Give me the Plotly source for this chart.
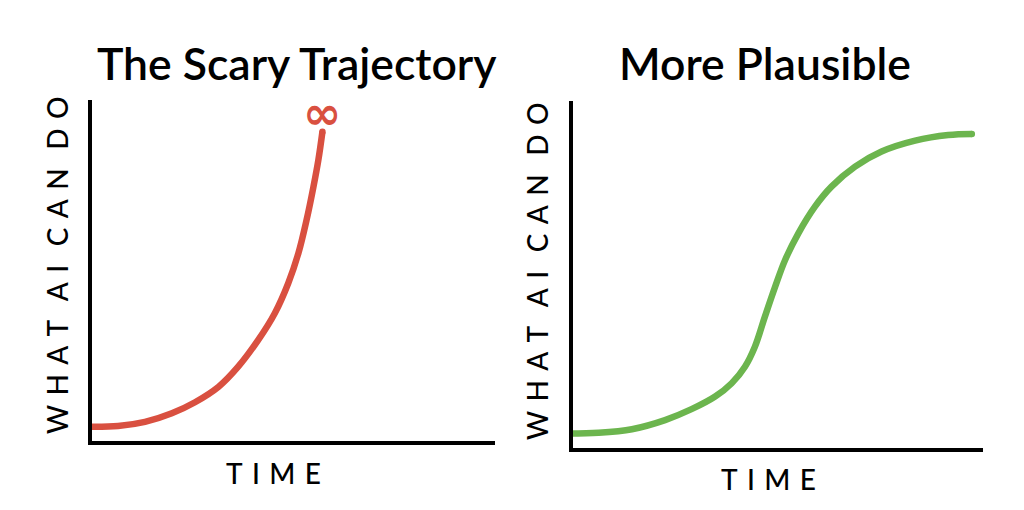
import plotly.graph_objects as go

# ---- data ----
titles = ["The Scary Trajectory", "More Plausible"]
x_label = "TIME"
y_label = "WHAT AI CAN DO"
infinity_label = "∞"

time_scary = [0, 7.4, 14.0, 20.6, 26.3, 32.1, 36.9, 41.8, 45.9, 49.2, 51.7, 53.7, 55.4, 56.6, 57.6]
value_scary = [5.3, 5.5, 6.7, 9.2, 12.4, 16.9, 22.7, 30.4, 38.2, 46.9, 55.6, 65.2, 74.9, 82.6, 90.8]

time_plausible = [0, 7.1, 15.2, 23.2, 29.6, 35.3, 39.3, 42.5, 44.9, 47.3, 49.8, 52.2, 55.4, 59.4,
                  63.4, 69.1, 75.5, 83.6, 91.6, 97.3]
value_plausible = [5.3, 5.5, 6.5, 9.1, 12.2, 15.8, 19.6, 24.3, 30.0, 38.5, 47.1, 54.7, 62.3, 69.9,
                   75.6, 81.3, 85.6, 88.7, 90.3, 90.6]

RED = "rgb(217,80,64)"
GREEN = "rgb(108,181,78)"
FONT = "Lato"
PAGE_MARGIN = 8          # default <body> margin of the html page
W, H = 1024 - 2 * PAGE_MARGIN, 510 - 2 * PAGE_MARGIN


def px(x):
    return (x - PAGE_MARGIN) / W


def py(y):
    return 1 - (y - PAGE_MARGIN) / H


def spaced(text, gap="\u2004", word_gap="\u2004\u2004"):
    words = text.split(" ")
    return word_gap.join(gap.join(list(w)) for w in words)


fig = go.Figure()

fig.add_trace(go.Scatter(x=time_scary, y=value_scary, mode="lines",
                         line=dict(color=RED, width=6.5, shape="spline", smoothing=1.0, simplify=False),
                         xaxis="x", yaxis="y", showlegend=False, hoverinfo="skip"))
fig.add_trace(go.Scatter(x=time_plausible, y=value_plausible, mode="lines",
                         line=dict(color=GREEN, width=6.5, shape="spline", smoothing=1.0, simplify=False),
                         xaxis="x2", yaxis="y2", showlegend=False, hoverinfo="skip"))

# round caps for the curve ends and axis lines
fig.add_trace(go.Scatter(x=[time_scary[-1]], y=[value_scary[-1]], mode="markers",
                         marker=dict(color=RED, size=6.5, line=dict(width=0)),
                         xaxis="x", yaxis="y", showlegend=False, hoverinfo="skip"))
fig.add_trace(go.Scatter(x=[time_plausible[-1]], y=[value_plausible[-1]], mode="markers",
                         marker=dict(color=GREEN, size=6.5, line=dict(width=0)),
                         xaxis="x2", yaxis="y2", showlegend=False, hoverinfo="skip"))
for xa, ya in (("x", "y"), ("x2", "y2")):
    fig.add_trace(go.Scatter(x=[0, 0, 100], y=[100, 0, 0], mode="markers",
                             marker=dict(color="black", size=8, line=dict(width=0)),
                             xaxis=xa, yaxis=ya, showlegend=False, hoverinfo="skip"))

axis_common = dict(visible=False, range=[0, 100], fixedrange=True)
fig.update_layout(
    width=W, height=H,
    margin=dict(l=0, r=0, t=0, b=0),
    paper_bgcolor="white", plot_bgcolor="rgba(0,0,0,0)",
    xaxis=dict(domain=[px(88), px(495)], anchor="y", **axis_common),
    yaxis=dict(domain=[py(445), py(100)], anchor="x", **axis_common),
    xaxis2=dict(domain=[px(569), px(983)], anchor="y2", **axis_common),
    yaxis2=dict(domain=[py(452), py(101)], anchor="x2", **axis_common),
)

shapes = []
for xr, yr in (("x", "y"), ("x2", "y2")):
    shapes.append(dict(type="path", xref=xr, yref=yr, path="M 0,100 L 0,0 L 100,0",
                       line=dict(color="black", width=8), layer="above"))
fig.update_layout(shapes=shapes)


def label(text, x, y, size, angle=0, weight=400, color="black", family=FONT):
    return dict(text=text, x=px(x), y=py(y), xref="paper", yref="paper",
                xanchor="center", yanchor="middle", textangle=angle, showarrow=False,
                font=dict(family=family, size=size, color=color, weight=weight))


ann = [
    label(titles[0], 297, 62, 44.5, weight=600),
    label(titles[1], 765, 62, 44.5, weight=600),
    label(spaced(x_label), 273, 473, 28, weight=500),
    label(spaced(x_label), 768, 479, 28, weight=500),
    label(spaced(y_label), 57, 266, 28, angle=-90, weight=500),
    label(spaced(y_label), 537, 272, 28, angle=-90, weight=500),
]
# infinity mark above the end of the scary curve
ann.append(dict(text=infinity_label, x=time_scary[-1], y=value_scary[-1], xref="x", yref="y",
                xanchor="center", yanchor="middle", yshift=19, showarrow=False,
                font=dict(family="DejaVu Sans", size=46, color=RED, weight=700)))
fig.update_layout(annotations=ann)

fig.write_html("out.html")
